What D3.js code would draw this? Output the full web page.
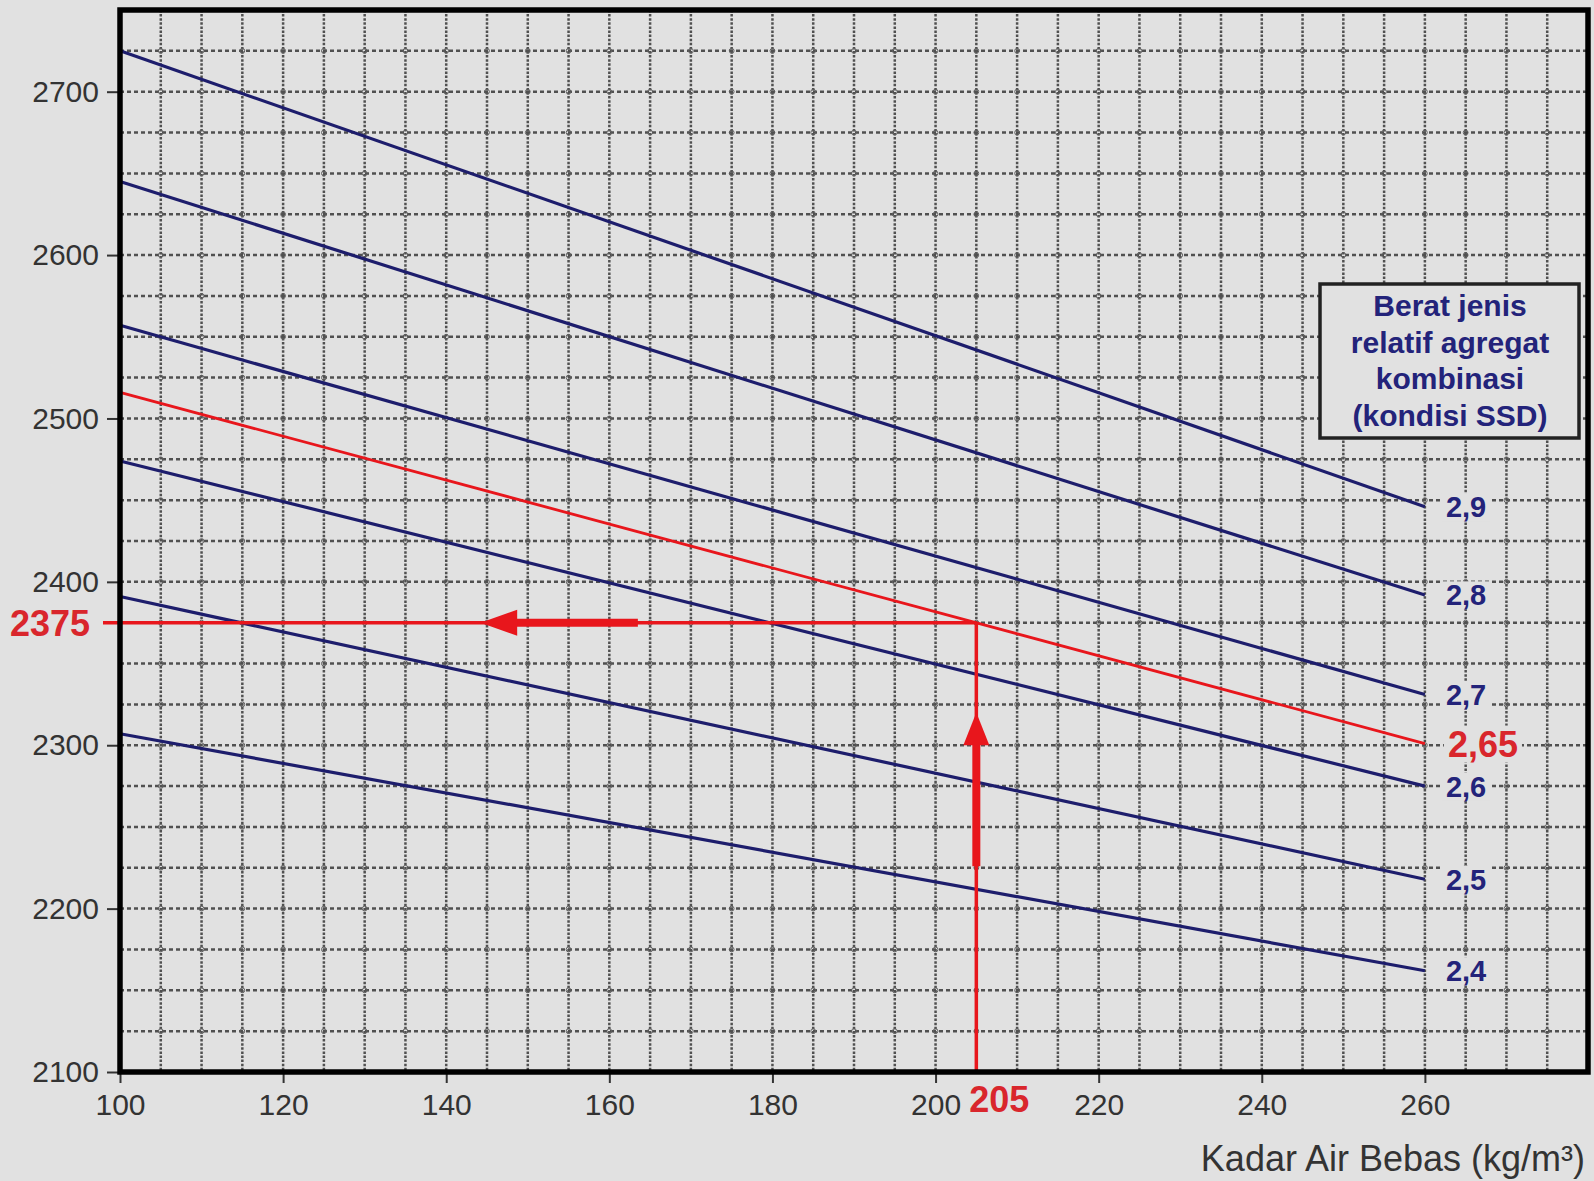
<!DOCTYPE html>
<html>
<head>
<meta charset="utf-8">
<script src="https://cdn.jsdelivr.net/npm/d3@7"></script>
<style>
  body { margin: 0; background: #e1e1e1; }
  svg { display: block; font-family: "Liberation Sans", Arial, sans-serif; }
</style>
</head>
<body>
<div id="chart"></div>
<script>
// axis ticks
const xTicks = [100, 120, 140, 160, 180, 200, 220, 240, 260];
const yTicks = [2100, 2200, 2300, 2400, 2500, 2600, 2700];

// lines: value at x = 100 and x = 260
const seriesNames = ["2,9", "2,8", "2,7", "2,65", "2,6", "2,5", "2,4"];
const seriesX = [100, 260];
const seriesStart = [2725, 2645, 2557, 2516, 2474, 2391, 2307];
const seriesEnd = [2446, 2392, 2331, 2301, 2275, 2218, 2162];
const highlightName = "2,65";

// reading example
const readX = 205;
const readY = 2375;
const hArrow = { tip: 144.2, base: 148.7, thickEnd: 163.5 };  // x values on y = readY
const vArrow = { tip: 2320, base: 2300, thickEnd: 2226 };     // y values on x = readX

const legendLines = ["Berat jenis", "relatif agregat", "kombinasi", "(kondisi SSD)"];
const xTitle = "Kadar Air Bebas (kg/m³)";

const W = 1594, H = 1181;
const margin = { top: 10, right: 6, bottom: 109, left: 120 };
const navy = "#1d1d6c";
const red = "#e8161c";
const labelRed = "#d9262c";

const svg = d3.select("#chart").append("svg")
  .attr("width", W).attr("height", H);

svg.append("rect").attr("width", W).attr("height", H).attr("fill", "#e1e1e1");

const x = d3.scaleLinear().domain([100, 280]).range([margin.left, W - margin.right]);
const y = d3.scaleLinear().domain([2100, 2750]).range([H - margin.bottom, margin.top]);

// grid
const gridG = svg.append("g").attr("class", "grid");
const gx = d3.range(105, 280, 5);
const gy = d3.range(2125, 2750, 25);

gridG.selectAll("line.gv").data(gx).enter().append("line")
  .attr("class", "gv")
  .attr("x1", d => x(d)).attr("x2", d => x(d))
  .attr("y1", y(2750)).attr("y2", y(2100))
  .attr("stroke", "#505050").attr("stroke-width", 2.5)
  .attr("stroke-dasharray", "2.5,1.6");

gridG.selectAll("line.gh").data(gy).enter().append("line")
  .attr("class", "gh")
  .attr("x1", x(100)).attr("x2", x(280))
  .attr("y1", d => y(d)).attr("y2", d => y(d))
  .attr("stroke", "#505050").attr("stroke-width", 2.5)
  .attr("stroke-dasharray", "4,3");

// little rings at the crossings
const crossings = [];
gx.forEach(a => gy.forEach(b => crossings.push([a, b])));
gridG.selectAll("circle").data(crossings).enter().append("circle")
  .attr("cx", d => x(d[0])).attr("cy", d => y(d[1]))
  .attr("r", 2.4)
  .attr("fill", "none").attr("stroke", "#606060").attr("stroke-width", 1);

// axes
const yAxis = d3.axisLeft(y).tickValues(yTicks).tickSize(13).tickPadding(8).tickFormat(d3.format("d"));
const xAxis = d3.axisBottom(x).tickValues(xTicks).tickSize(11).tickPadding(6).tickFormat(d3.format("d"));

const yAxisG = svg.append("g").attr("transform", `translate(${x(100)},0)`).call(yAxis);
const xAxisG = svg.append("g").attr("transform", `translate(0,${y(2100)})`).call(xAxis);

[yAxisG, xAxisG].forEach(g => {
  g.select(".domain").remove();
  g.selectAll(".tick line").attr("stroke", "#333").attr("stroke-width", 2);
  g.selectAll(".tick text").attr("fill", "#333").style("font-size", "30px");
});
xAxisG.selectAll(".tick text").attr("dy", "0.88em");

// series lines
const lineGen = d3.line().x(d => x(d[0])).y(d => y(d[1]));
const series = seriesNames.map((name, i) => ({
  name,
  pts: [[seriesX[0], seriesStart[i]], [seriesX[1], seriesEnd[i]]]
}));

svg.append("g").selectAll("path").data(series).enter().append("path")
  .attr("d", d => lineGen(d.pts))
  .attr("fill", "none")
  .attr("stroke", d => d.name === highlightName ? red : navy)
  .attr("stroke-width", d => d.name === highlightName ? 2.8 : 3.2);

// reading lines + arrows
const readG = svg.append("g");
readG.append("line")
  .attr("x1", x(100) - 17).attr("x2", x(readX))
  .attr("y1", y(readY)).attr("y2", y(readY))
  .attr("stroke", red).attr("stroke-width", 3.5);
readG.append("line")
  .attr("x1", x(readX)).attr("x2", x(readX))
  .attr("y1", y(2100)).attr("y2", y(readY))
  .attr("stroke", red).attr("stroke-width", 3.5);

readG.append("line")
  .attr("x1", x(hArrow.base) - 2).attr("x2", x(hArrow.thickEnd))
  .attr("y1", y(readY)).attr("y2", y(readY))
  .attr("stroke", red).attr("stroke-width", 8);
readG.append("path")
  .attr("d", `M${x(hArrow.tip)},${y(readY)} L${x(hArrow.base)},${y(readY) - 13} L${x(hArrow.base)},${y(readY) + 13} Z`)
  .attr("fill", red);

readG.append("line")
  .attr("x1", x(readX)).attr("x2", x(readX))
  .attr("y1", y(vArrow.base) - 2).attr("y2", y(vArrow.thickEnd))
  .attr("stroke", red).attr("stroke-width", 8);
readG.append("path")
  .attr("d", `M${x(readX)},${y(vArrow.tip)} L${x(readX) - 13},${y(vArrow.base)} L${x(readX) + 13},${y(vArrow.base)} Z`)
  .attr("fill", red);

// frame
svg.append("rect")
  .attr("x", x(100)).attr("y", y(2750))
  .attr("width", x(280) - x(100)).attr("height", y(2100) - y(2750))
  .attr("fill", "none").attr("stroke", "#000").attr("stroke-width", 5.5);

// series labels with background boxes
const labG = svg.append("g");
series.forEach(s => {
  const hl = s.name === highlightName;
  const g = labG.append("g");
  const t = g.append("text")
    .attr("x", x(260) + (hl ? 23 : 21))
    .attr("y", y(s.pts[1][1]))
    .attr("dy", "0.36em")
    .attr("fill", hl ? labelRed : "#23237a")
    .attr("font-weight", "bold")
    .style("font-size", hl ? "36px" : "29px")
    .text(s.name);
  const b = t.node().getBBox();
  g.insert("rect", "text")
    .attr("x", b.x - 4).attr("y", b.y + 2)
    .attr("width", b.width + 8).attr("height", b.height - 4)
    .attr("fill", "#e1e1e1");
});

// red reading labels
svg.append("text")
  .attr("x", 90).attr("y", y(readY)).attr("dy", "0.36em")
  .attr("text-anchor", "end")
  .attr("fill", labelRed).attr("font-weight", "bold")
  .style("font-size", "36px")
  .text(readY);

svg.append("text")
  .attr("x", x(readX) - 7).attr("y", 1112)
  .attr("fill", labelRed).attr("font-weight", "bold")
  .style("font-size", "36px")
  .text(readX);

// legend box
const lg = svg.append("g");
lg.append("rect")
  .attr("x", 1320).attr("y", 284).attr("width", 259).attr("height", 154)
  .attr("fill", "#e1e1e1").attr("stroke", "#222").attr("stroke-width", 3.5);
lg.selectAll("text").data(legendLines).enter().append("text")
  .attr("x", 1450).attr("y", (d, i) => 305 + i * 36.7)
  .attr("dy", "0.36em")
  .attr("text-anchor", "middle")
  .attr("fill", "#23237a").attr("font-weight", "bold")
  .style("font-size", "30px")
  .text(d => d);

// x axis title
svg.append("text")
  .attr("x", 1585).attr("y", 1171)
  .attr("text-anchor", "end")
  .attr("fill", "#333")
  .style("font-size", "36px")
  .text(xTitle);
</script>
</body>
</html>
